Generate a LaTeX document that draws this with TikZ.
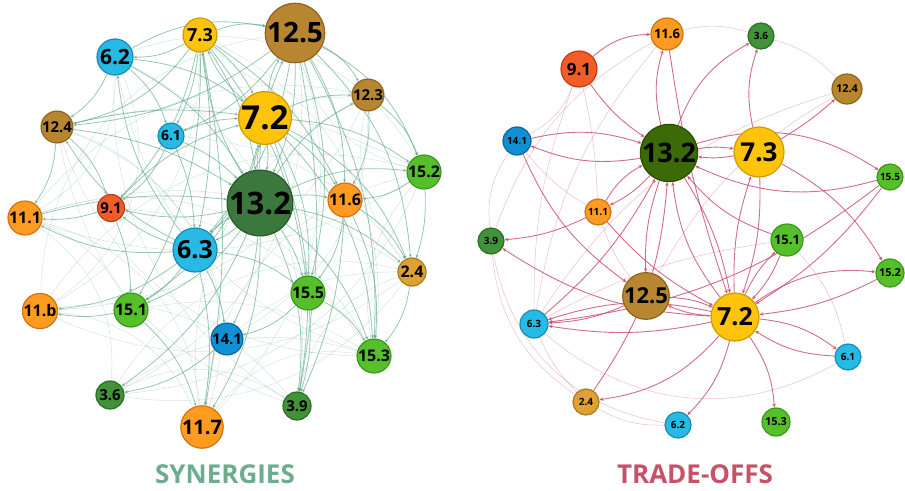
\documentclass[tikz,border=0pt]{standalone}
\usepackage{fontspec}
\setmainfont{Open Sans}
\usetikzlibrary{arrows.meta,backgrounds}

% node palette (fill / outline)
\definecolor{sixF}{RGB}{38,186,228}   \definecolor{sixD}{RGB}{22,140,180}
\definecolor{ftnF}{RGB}{18,144,214}   \definecolor{ftnD}{RGB}{10,100,160}
\definecolor{yelF}{RGB}{255,196,10}   \definecolor{yelD}{RGB}{205,155,0}
\definecolor{brnF}{RGB}{184,134,48}   \definecolor{brnD}{RGB}{140,100,30}
\definecolor{orgF}{RGB}{255,155,32}   \definecolor{orgD}{RGB}{210,115,15}
\definecolor{redF}{RGB}{242,92,38}    \definecolor{redD}{RGB}{190,60,20}
\definecolor{grnF}{RGB}{86,192,42}    \definecolor{grnD}{RGB}{60,150,30}
\definecolor{dgrF}{RGB}{66,146,56}    \definecolor{dgrD}{RGB}{45,110,40}
\definecolor{hubS}{RGB}{58,120,62}    \definecolor{hubSD}{RGB}{40,90,42}
\definecolor{hubT}{RGB}{60,106,6}     \definecolor{hubTD}{RGB}{40,76,0}
\definecolor{gldF}{RGB}{222,162,52}   \definecolor{gldD}{RGB}{170,120,30}
\definecolor{synC}{RGB}{96,168,136}
\definecolor{trdC}{RGB}{200,72,102}
\definecolor{synT}{RGB}{110,172,142}
\definecolor{trdT}{RGB}{198,82,104}

\newcommand\lbl[1]{\fontsize{#1}{#1}\selectfont\bfseries}

\tikzset{
  nd/.style={circle,inner sep=0pt,line width=1.2pt,text=black},
  six/.style={nd,fill=sixF,draw=sixD},
  ftn/.style={nd,fill=ftnF,draw=ftnD},
  yel/.style={nd,fill=yelF,draw=yelD},
  brn/.style={nd,fill=brnF,draw=brnD},
  org/.style={nd,fill=orgF,draw=orgD},
  red/.style={nd,fill=redF,draw=redD},
  grn/.style={nd,fill=grnF,draw=grnD},
  dgr/.style={nd,fill=dgrF,draw=dgrD},
  gld/.style={nd,fill=gldF,draw=gldD},
  hubs/.style={nd,fill=hubS,draw=hubSD},
  hubt/.style={nd,fill=hubT,draw=hubTD},
  syn/.style={draw=synC,line width=0.8pt,draw opacity=0.65,-{Stealth[length=3.5pt,width=3pt]}},
  synf/.style={draw=synC,line width=0.5pt,draw opacity=0.28},
  trd/.style={draw=trdC,line width=0.9pt,draw opacity=0.8,-{Stealth[length=4pt,width=3.5pt]}},
  trdf/.style={draw=trdC,line width=0.5pt,draw opacity=0.35},
  ttl/.style={font=\fontsize{26}{26}\selectfont\bfseries}
}

\begin{document}
\begin{tikzpicture}[x=1pt,y=-1pt]
\useasboundingbox (0,0) rectangle (905,490);

% ---------------- synergies network ----------------
\node[yel,minimum size=34pt,font=\lbl{18}] (s73) at (200,35) {7.3};
\node[brn,minimum size=44pt,font=\lbl{28}] (s125) at (295,33) {12.5};
\node[six,minimum size=36pt,font=\lbl{21}] (s62) at (115,57) {6.2};
\node[brn,minimum size=28pt,font=\lbl{15}] (s123) at (368,95) {12.3};
\node[yel,minimum size=52pt,font=\lbl{33}] (s72) at (265,118) {7.2};
\node[brn,minimum size=30pt,font=\lbl{15}] (s124) at (57,127) {12.4};
\node[six,minimum size=26pt,font=\lbl{14}] (s61) at (171,136) {6.1};
\node[grn,minimum size=30pt,font=\lbl{16}] (s152) at (424,172) {15.2};
\node[hubs,minimum size=52pt,font=\lbl{31}] (s132) at (260,203) {13.2};
\node[org,minimum size=30pt,font=\lbl{16}] (s116) at (345,200) {11.6};
\node[red,minimum size=27pt,font=\lbl{15}] (s91) at (111,208) {9.1};
\node[org,minimum size=27pt,font=\lbl{16}] (s111) at (25,218) {11.1};
\node[six,minimum size=44pt,font=\lbl{25}] (s63) at (195,250) {6.3};
\node[gld,minimum size=28pt,font=\lbl{16}] (s24) at (412,272) {2.4};
\node[grn,minimum size=28pt,font=\lbl{16}] (s155) at (308,293) {15.5};
\node[org,minimum size=29pt,font=\lbl{16}] (s11b) at (40,311) {11.b};
\node[grn,minimum size=29pt,font=\lbl{16}] (s151) at (131,310) {15.1};
\node[ftn,minimum size=28pt,font=\lbl{15}] (s141) at (227,339) {14.1};
\node[grn,minimum size=31pt,font=\lbl{16}] (s153) at (374,356) {15.3};
\node[dgr,minimum size=28pt,font=\lbl{15}] (s36) at (110,395) {3.6};
\node[dgr,minimum size=28pt,font=\lbl{15}] (s39) at (297,406) {3.9};
\node[org,minimum size=36pt,font=\lbl{20}] (s117) at (202,427) {11.7};

\begin{pgfonlayer}{background}
% faint outer arcs
\foreach \a/\b/\c in {s62/s11b/40,s124/s117/45,s111/s36/30,s11b/s117/30,s36/s39/30,
  s117/s153/30,s39/s24/30,s153/s152/25,s24/s123/25,s152/s125/30,s123/s73/25,
  s111/s151/20,s124/s141/30,s62/s39/35,s73/s153/35,s125/s117/30,s123/s141/30,
  s152/s36/30,s24/s11b/30,s111/s24/25,s62/s152/40,s124/s152/20,s11b/s39/30,
  s91/s153/25,s61/s24/25,s141/s24/20,s151/s153/20,s36/s153/25,s111/s117/35,
  s62/s111/30,s73/s11b/30,s125/s36/35,s123/s11b/30,s152/s111/25,s24/s36/30,
  s117/s152/35,s39/s124/30,s153/s62/30,s11b/s125/40,s111/s123/30,
  s111/s153/40,s11b/s152/35,s36/s24/35,s117/s123/35,s39/s62/30,s153/s124/35}
  \draw[synf] (\a) to[bend left=\c] (\b);
% linked pairs around the hubs
\foreach \a/\b/\c in {s132/s72/8,s72/s132/8,s132/s125/12,s125/s132/12,s132/s73/12,s73/s132/12,
  s62/s132/15,s132/s123/15,s124/s132/12,s61/s132/10,s132/s152/15,s132/s116/10,
  s132/s91/12,s111/s132/10,s132/s63/10,s63/s132/10,s132/s24/15,s132/s155/10,
  s132/s151/15,s132/s141/10,s132/s153/15,s132/s39/15,s132/s117/15,s132/s36/15,
  s72/s73/12,s73/s72/12,s72/s125/12,s62/s72/15,s72/s123/12,s124/s72/10,s61/s72/10,
  s72/s152/15,s72/s116/12,s91/s72/15,s72/s63/15,s72/s24/20,s72/s155/15,s72/s151/20,
  s72/s153/20,s72/s39/15,s73/s125/15,s62/s125/20,s125/s123/15,s125/s124/15,
  s125/s61/15,s125/s152/20,s125/s116/15,s125/s63/15,s125/s155/15,s125/s153/15,
  s125/s24/20,s125/s39/10,s73/s62/15,s73/s124/20,s73/s61/10,s73/s91/15,s73/s63/10,
  s73/s151/15,s73/s117/10,s73/s116/15,s73/s155/15,s63/s62/15,s63/s124/15,s61/s63/10,
  s63/s111/15,s63/s11b/15,s63/s151/10,s63/s141/10,s63/s117/10,s63/s155/15,s63/s91/10,
  s116/s155/15,s155/s153/15,s155/s39/10,s24/s153/15,s123/s116/15,s152/s116/15,
  s116/s153/15,s151/s11b/10,s124/s91/15,s124/s111/15,s62/s124/15,s62/s61/15,
  s91/s111/10,s141/s36/15,s155/s141/15,s151/s117/15,s116/s24/15,s123/s152/15,
  s116/s39/10,s61/s91/15,s91/s151/10,s152/s24/10}
  \draw[syn] (\a) to[bend left=\c] (\b);
\end{pgfonlayer}

\node[ttl,text=synT] (synttl) at (225,474) {SYNERGIES};

% ---------------- trade-offs network ----------------
\node[org,minimum size=32pt,font=\lbl{13}] (t116) at (667,34) {11.6};
\node[dgr,minimum size=26pt,font=\lbl{10}] (t36) at (761,36) {3.6};
\node[red,minimum size=36pt,font=\lbl{17}] (t91) at (579,69) {9.1};
\node[brn,minimum size=30pt,font=\lbl{11}] (t124) at (847,89) {12.4};
\node[ftn,minimum size=28pt,font=\lbl{10}] (t141) at (517,141) {14.1};
\node[hubt,minimum size=52pt,font=\lbl{27}] (t132) at (669,153) {13.2};
\node[yel,minimum size=50pt,font=\lbl{26}] (t73) at (759,152) {7.3};
\node[grn,minimum size=26pt,font=\lbl{10}] (t155) at (890,177) {15.5};
\node[org,minimum size=26pt,font=\lbl{10}] (t111) at (598,212) {11.1};
\node[dgr,minimum size=26pt,font=\lbl{10}] (t39) at (491,241) {3.9};
\node[grn,minimum size=32pt,font=\lbl{13}] (t151) at (787,240) {15.1};
\node[grn,minimum size=28pt,font=\lbl{11}] (t152) at (890,273) {15.2};
\node[brn,minimum size=45pt,font=\lbl{22}] (t125) at (646,296) {12.5};
\node[yel,minimum size=48pt,font=\lbl{25}] (t72) at (735,317) {7.2};
\node[six,minimum size=28pt,font=\lbl{10}] (t63) at (534,324) {6.3};
\node[six,minimum size=26pt,font=\lbl{10}] (t61) at (848,357) {6.1};
\node[gld,minimum size=26pt,font=\lbl{10}] (t24) at (586,402) {2.4};
\node[six,minimum size=26pt,font=\lbl{10}] (t62) at (678,425) {6.2};
\node[grn,minimum size=28pt,font=\lbl{11}] (t153) at (776,422) {15.3};

\begin{pgfonlayer}{background}
\foreach \a/\b/\c in {t91/t141/20,t91/t111/5,t116/t36/15,t36/t124/15,t116/t63/-15,
  t141/t111/-10,t39/t141/20,t39/t24/-25,t63/t24/-10,t24/t62/-15,t63/t61/-35,
  t151/t61/15,t124/t63/-20,t39/t62/-35,t116/t39/-20,t91/t63/-10,t151/t63/-10,
  t111/t125/-10,t124/t125/-15}
  \draw[trdf] (\a) to[bend left=\c] (\b);
\foreach \a/\b/\c in {t91/t132/-10,t132/t116/15,t91/t116/20,t132/t36/20,t73/t36/15,
  t73/t124/-5,t141/t132/15,t132/t141/15,t132/t73/8,t73/t132/8,t132/t155/25,
  t155/t132/20,t73/t152/15,t111/t132/15,t132/t111/10,t111/t39/10,t73/t72/10,
  t72/t73/10,t132/t72/10,t72/t132/15,t151/t72/10,t72/t151/10,t155/t72/10,
  t152/t72/10,t72/t152/20,t61/t72/15,t72/t61/15,t72/t153/15,t72/t62/15,t72/t24/20,
  t24/t132/-15,t72/t125/10,t125/t72/10,t125/t63/10,t72/t63/-15,t72/t63/10,
  t72/t39/15,t63/t132/-10,t141/t125/-15,t116/t72/-5,t151/t132/15,t111/t72/-10,
  t132/t125/-10,t155/t63/15}
  \draw[trd] (\a) to[bend left=\c] (\b);
\end{pgfonlayer}

\node[ttl,text=trdT] (trdttl) at (695,474) {TRADE-OFFS};
\end{tikzpicture}
\end{document}
